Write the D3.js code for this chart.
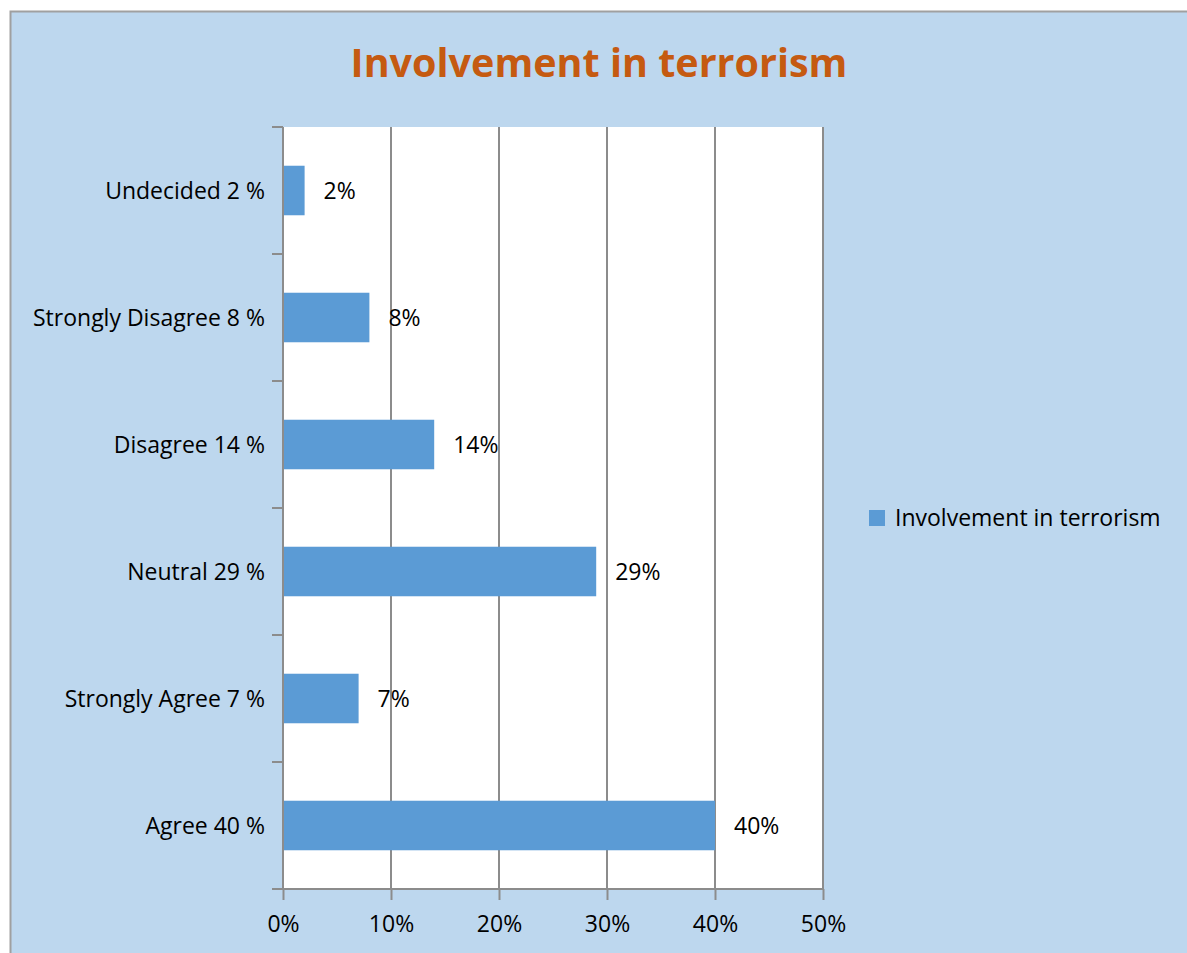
<!DOCTYPE html>
<html><head><meta charset="utf-8">
<script src="https://cdn.jsdelivr.net/npm/d3@7"></script>
<style>
html,body{margin:0;padding:0;background:#fff;}
svg{display:block;}
text{font-family:"Open Sans", sans-serif;}
</style></head>
<body>
<svg id="c" width="1187" height="953"></svg>
<script>
const categories = ["Undecided 2 %","Strongly Disagree 8 %","Disagree 14 %","Neutral 29 %","Strongly Agree 7 %","Agree 40 %"];
const values = [2, 8, 14, 29, 7, 40];
const xTicks = [0, 10, 20, 30, 40, 50];
const seriesName = "Involvement in terrorism";
const title = "Involvement in terrorism";

const FONT = "'Open Sans', sans-serif";
const FS = 23;
const svg = d3.select("#c");
const W = 1187, H = 953;
svg.append("rect").attr("x",10.5).attr("y",11.5).attr("width",W).attr("height",H)
  .attr("fill","#bdd7ee").attr("stroke","#a0a0a0").attr("stroke-width",2);

const m = {left:283, right:823, top:127, bottom:889};
const x = d3.scaleLinear().domain([0,50]).range([m.left, m.right]);
const y = d3.scaleBand().domain(categories).range([m.top, m.bottom]).paddingInner(0.61).paddingOuter(0.305);
const yb = d3.scaleBand().domain(categories).range([m.top, m.bottom]);

svg.append("rect").attr("x",m.left).attr("y",m.top).attr("width",m.right-m.left).attr("height",m.bottom-m.top).attr("fill","#fff");

svg.append("g").selectAll("line").data(xTicks.slice(1)).join("line")
  .attr("x1",d=>x(d)).attr("x2",d=>x(d)).attr("y1",m.top).attr("y2",m.bottom)
  .attr("stroke","#8c8c8c").attr("stroke-width",2);

svg.append("g").selectAll("rect").data(values).join("rect")
  .attr("x",x(0)).attr("y",(d,i)=>y(categories[i])).attr("width",d=>x(d)-x(0)).attr("height",y.bandwidth())
  .attr("fill","#5b9bd5");

const xAxis = d3.axisBottom(x).tickValues(xTicks).tickFormat(d=>d+"%").tickSize(11).tickPadding(16);
const gx = svg.append("g").attr("transform",`translate(0,${m.bottom})`).call(xAxis);
gx.select(".domain").attr("d",`M${m.left-11},0H${m.right}`).attr("stroke","#8c8c8c").attr("stroke-width",2);
gx.selectAll(".tick line").attr("stroke","#8c8c8c").attr("stroke-width",2);
gx.selectAll(".tick text").attr("font-size",FS).attr("fill","#000").attr("font-family",FONT);

const gy = svg.append("g").attr("transform",`translate(${m.left},0)`);
gy.append("line").attr("x1",0).attr("x2",0).attr("y1",m.top).attr("y2",m.bottom).attr("stroke","#8c8c8c").attr("stroke-width",2);
gy.selectAll("line.t").data(categories).join("line").attr("class","t")
  .attr("x1",-11).attr("x2",0).attr("y1",d=>yb(d)).attr("y2",d=>yb(d)).attr("stroke","#8c8c8c").attr("stroke-width",2);
gy.selectAll("text").data(categories).join("text")
  .attr("x",-18).attr("y",d=>yb(d)+yb.bandwidth()/2).attr("dy","0.35em").attr("text-anchor","end")
  .attr("font-size",FS).attr("fill","#000").text(d=>d);

svg.append("g").selectAll("text").data(values).join("text")
  .attr("x",d=>x(d)+19).attr("y",(d,i)=>yb(categories[i])+yb.bandwidth()/2).attr("dy","0.35em")
  .attr("font-size",FS).attr("fill","#000").text(d=>d+"%");

svg.append("text").attr("x",599).attr("y",77).attr("text-anchor","middle")
  .attr("font-size",39.5).attr("font-weight","bold").attr("fill","#c55a11").text(title);

const lg = svg.append("g").attr("transform","translate(869,510)");
lg.append("rect").attr("width",16).attr("height",16).attr("fill","#5b9bd5");
lg.append("text").attr("x",26).attr("y",8).attr("dy","0.35em").attr("font-size",FS).attr("fill","#000").text(seriesName);
</script>
</body></html>
